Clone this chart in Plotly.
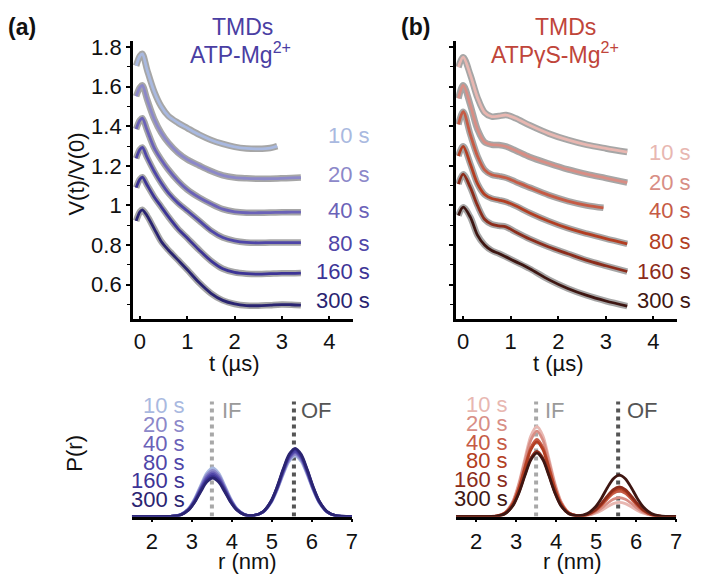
import plotly.graph_objects as go

W, H = 701, 574
FONT = "Arial, 'Liberation Sans', sans-serif"

# ---------------- series labels and colours ----------------
labels = ["10 s", "20 s", "40 s", "80 s", "160 s", "300 s"]
blue = ["#a9b9e0", "#8c88c9", "#6b62b8", "#4f46a8", "#3d3496", "#2a2471"]
red = ["#e8b7b1", "#d88e85", "#c65b45", "#b33e22", "#8c2c1b", "#3e1612"]

# ---------------- DEER traces, ATP-Mg2+ (offset stack) ----------------
t_atp = [-0.08, 0.0, 0.05, 0.15, 0.3, 0.45, 0.6, 0.8, 1.0, 1.25, 1.5, 1.75,
         2.0, 2.25, 2.5, 2.75, 3.0, 3.2, 3.4]
t_atp_10 = [-0.08, 0.0, 0.05, 0.15, 0.3, 0.45, 0.6, 0.8, 1.0, 1.25, 1.5, 1.75,
            2.0, 2.25, 2.5, 2.75, 2.9]
v_atp_10 = [1.706, 1.756, 1.766, 1.686, 1.576, 1.500, 1.452, 1.418, 1.391, 1.358,
            1.331, 1.311, 1.296, 1.288, 1.286, 1.290, 1.300]
v_atp_20 = [1.552, 1.597, 1.607, 1.537, 1.437, 1.367, 1.317, 1.267, 1.232, 1.202,
            1.174, 1.152, 1.141, 1.137, 1.135, 1.135, 1.137, 1.139, 1.141]
v_atp_40 = [1.386, 1.431, 1.441, 1.381, 1.291, 1.231, 1.181, 1.125, 1.080, 1.040,
            1.008, 0.981, 0.968, 0.963, 0.963, 0.964, 0.965, 0.966, 0.966]
v_atp_80 = [1.238, 1.283, 1.293, 1.243, 1.173, 1.113, 1.063, 1.013, 0.973, 0.923,
            0.873, 0.838, 0.821, 0.813, 0.811, 0.812, 0.812, 0.812, 0.812]
v_atp_160 = [1.090, 1.133, 1.143, 1.103, 1.043, 0.993, 0.943, 0.883, 0.835, 0.775,
             0.720, 0.680, 0.662, 0.655, 0.653, 0.655, 0.657, 0.657, 0.658]
v_atp_300 = [0.922, 0.968, 0.978, 0.948, 0.883, 0.818, 0.775, 0.725, 0.675, 0.610,
             0.556, 0.520, 0.502, 0.494, 0.493, 0.496, 0.499, 0.498, 0.496]

# ---------------- DEER traces, ATPgammaS-Mg2+ (offset stack) ----------------
t_gs = [-0.1, 0.0, 0.15, 0.3, 0.45, 0.6, 0.75, 0.9, 1.1, 1.4, 1.8, 2.2, 2.6, 3.0, 3.45]
t_gs_40 = [-0.1, 0.0, 0.15, 0.3, 0.45, 0.6, 0.75, 0.9, 1.1, 1.4, 1.8, 2.2, 2.6, 2.95]
v_gs_10 = [1.699, 1.749, 1.660, 1.545, 1.470, 1.449, 1.452, 1.457, 1.441, 1.405,
           1.363, 1.331, 1.306, 1.288, 1.270]
v_gs_20 = [1.541, 1.608, 1.508, 1.385, 1.320, 1.307, 1.305, 1.298, 1.278, 1.245,
           1.212, 1.182, 1.158, 1.138, 1.115]
v_gs_40 = [1.410, 1.474, 1.358, 1.250, 1.180, 1.155, 1.148, 1.140, 1.120, 1.090,
           1.052, 1.022, 1.000, 0.988]
v_gs_80 = [1.250, 1.299, 1.210, 1.110, 1.055, 1.035, 1.027, 1.018, 0.998, 0.962,
           0.920, 0.885, 0.857, 0.832, 0.806]
v_gs_160 = [1.108, 1.158, 1.091, 1.000, 0.930, 0.905, 0.897, 0.892, 0.866, 0.830,
            0.790, 0.756, 0.722, 0.695, 0.666]
v_gs_300 = [0.949, 0.991, 0.941, 0.850, 0.800, 0.772, 0.757, 0.740, 0.716, 0.680,
            0.625, 0.580, 0.545, 0.517, 0.491]

# ---------------- distance distributions P(r) ----------------
r_grid = [1.5, 2.0, 2.52, 2.72, 2.92, 3.07, 3.22, 3.37, 3.52, 3.67, 3.82, 3.97, 4.12,
          4.32, 4.55, 4.78, 4.98, 5.13, 5.28, 5.43, 5.58, 5.73, 5.88, 6.03, 6.18,
          6.38, 6.58, 7.0]
p_atp_10 = [0, 0, 0.003, 0.018, 0.071, 0.153, 0.264, 0.367, 0.410, 0.367, 0.264, 0.153, 0.071,
            0.018, 0.010, 0.037, 0.117, 0.223, 0.353, 0.465, 0.510, 0.465, 0.353, 0.223, 0.117,
            0.037, 0.009, 0]
p_atp_20 = [0, 0, 0.003, 0.017, 0.067, 0.145, 0.251, 0.349, 0.390, 0.349, 0.251, 0.145, 0.067,
            0.017, 0.010, 0.038, 0.121, 0.229, 0.364, 0.479, 0.525, 0.479, 0.364, 0.229, 0.121,
            0.038, 0.009, 0]
p_atp_40 = [0, 0, 0.003, 0.016, 0.064, 0.138, 0.238, 0.332, 0.370, 0.332, 0.238, 0.138, 0.064,
            0.016, 0.010, 0.039, 0.124, 0.236, 0.374, 0.492, 0.540, 0.492, 0.374, 0.236, 0.124,
            0.039, 0.009, 0]
p_atp_80 = [0, 0, 0.003, 0.016, 0.061, 0.132, 0.229, 0.318, 0.355, 0.318, 0.229, 0.132, 0.061,
            0.016, 0.010, 0.040, 0.127, 0.240, 0.381, 0.502, 0.550, 0.502, 0.381, 0.240, 0.127,
            0.040, 0.009, 0]
p_atp_160 = [0, 0, 0.003, 0.015, 0.058, 0.126, 0.219, 0.305, 0.340, 0.305, 0.219, 0.126, 0.058,
             0.015, 0.010, 0.041, 0.130, 0.247, 0.392, 0.515, 0.565, 0.515, 0.392, 0.247, 0.130,
             0.041, 0.010, 0]
p_atp_300 = [0, 0, 0.003, 0.014, 0.056, 0.121, 0.209, 0.291, 0.325, 0.291, 0.209, 0.121, 0.056,
             0.014, 0.010, 0.042, 0.132, 0.251, 0.398, 0.524, 0.575, 0.524, 0.398, 0.251, 0.132,
             0.042, 0.010, 0]
p_gs_10 = [0, 0, 0.006, 0.033, 0.131, 0.283, 0.489, 0.681, 0.760, 0.681, 0.489, 0.283, 0.131,
           0.033, 0.006, 0.009, 0.028, 0.052, 0.083, 0.109, 0.120, 0.109, 0.083, 0.052, 0.028,
           0.009, 0.002, 0]
p_gs_20 = [0, 0, 0.006, 0.032, 0.124, 0.268, 0.464, 0.645, 0.720, 0.645, 0.464, 0.268, 0.124,
           0.032, 0.007, 0.012, 0.037, 0.070, 0.111, 0.146, 0.160, 0.146, 0.111, 0.070, 0.037,
           0.012, 0.003, 0]
p_gs_40 = [0, 0, 0.005, 0.029, 0.112, 0.242, 0.419, 0.582, 0.650, 0.582, 0.419, 0.242, 0.112,
           0.029, 0.007, 0.016, 0.049, 0.094, 0.149, 0.196, 0.215, 0.196, 0.149, 0.094, 0.049,
           0.016, 0.004, 0]
p_gs_80 = [0, 0, 0.005, 0.028, 0.108, 0.234, 0.406, 0.564, 0.630, 0.564, 0.406, 0.234, 0.108,
           0.028, 0.007, 0.017, 0.054, 0.103, 0.163, 0.214, 0.235, 0.214, 0.163, 0.103, 0.054,
           0.017, 0.004, 0]
p_gs_160 = [0, 0, 0.004, 0.024, 0.095, 0.205, 0.354, 0.493, 0.550, 0.493, 0.354, 0.205, 0.095,
            0.024, 0.007, 0.018, 0.058, 0.109, 0.173, 0.228, 0.250, 0.228, 0.173, 0.109, 0.058,
            0.018, 0.004, 0]
p_gs_300 = [0, 0, 0.004, 0.024, 0.092, 0.199, 0.345, 0.479, 0.535, 0.479, 0.345, 0.199, 0.092,
            0.024, 0.008, 0.026, 0.081, 0.153, 0.243, 0.319, 0.350, 0.319, 0.243, 0.153, 0.081,
            0.026, 0.006, 0]

# reference distances of the inward- and outward-facing states
r_if, r_of = 3.5, 5.55
marker_top = 0.97

# axis ticks
t_ticks = [0, 1, 2, 3, 4]
v_ticks = [0.6, 0.8, 1.0, 1.2, 1.4, 1.6, 1.8]
v_ticktext = ["0.6", "0.8", "1", "1.2", "1.4", "1.6", "1.8"]
r_ticks = [2, 3, 4, 5, 6, 7]


def px(x):
    return x / W


def py(y):
    return 1 - y / H


fig = go.Figure()

atp_sets = [(t_atp_10, v_atp_10), (t_atp, v_atp_20), (t_atp, v_atp_40),
            (t_atp, v_atp_80), (t_atp, v_atp_160), (t_atp, v_atp_300)]
gs_sets = [(t_gs, v_gs_10), (t_gs, v_gs_20), (t_gs_40, v_gs_40),
           (t_gs, v_gs_80), (t_gs, v_gs_160), (t_gs, v_gs_300)]

# measured data (grey band) under each fitted trace
for sets, colors, xa, ya in [(atp_sets, blue, "x", "y"), (gs_sets, red, "x2", "y2")]:
    for (tt, vv), c in zip(sets, colors):
        fig.add_trace(go.Scatter(x=tt, y=vv, mode="lines", xaxis=xa, yaxis=ya,
                                 line=dict(color="rgba(150,150,150,0.85)", width=6.5,
                                           shape="spline", smoothing=0.9),
                                 hoverinfo="skip", showlegend=False))
        fig.add_trace(go.Scatter(x=tt, y=vv, mode="lines", xaxis=xa, yaxis=ya,
                                 line=dict(color=c, width=2.8, shape="spline", smoothing=0.9),
                                 showlegend=False))

# IF / OF reference lines in the distance panels
for xa, ya in [("x3", "y3"), ("x4", "y4")]:
    fig.add_trace(go.Scatter(x=[r_if, r_if], y=[0, marker_top], mode="lines", xaxis=xa, yaxis=ya,
                             line=dict(color="#a8a8a8", width=4, dash="dot"), showlegend=False))
    fig.add_trace(go.Scatter(x=[r_of, r_of], y=[0, marker_top], mode="lines", xaxis=xa, yaxis=ya,
                             line=dict(color="#555555", width=4, dash="dot"), showlegend=False))

p_atp = [p_atp_10, p_atp_20, p_atp_40, p_atp_80, p_atp_160, p_atp_300]
p_gs = [p_gs_10, p_gs_20, p_gs_40, p_gs_80, p_gs_160, p_gs_300]
for series, colors, xa, ya in [(p_atp, blue, "x3", "y3"), (p_gs, red, "x4", "y4")]:
    for pp, c in zip(series, colors):
        fig.add_trace(go.Scatter(x=r_grid, y=pp, mode="lines", xaxis=xa, yaxis=ya,
                                 line=dict(color=c, width=2.8, shape="spline", smoothing=0.8),
                                 showlegend=False))

tick_font = dict(family=FONT, size=22, color="#111111")

top_x = dict(range=[-0.15, 4.5], showline=True, linecolor="black", linewidth=2.5,
             tickmode="array", tickvals=t_ticks, ticks="inside", ticklen=4, tickwidth=1.5,
             tickcolor="black", tickfont=tick_font, showgrid=False, zeroline=False)
top_y = dict(range=[0.424, 1.833], showline=True, linecolor="black", linewidth=2.5,
             tickmode="array", tickvals=v_ticks, ticktext=v_ticktext, ticks="outside",
             ticklen=4, tickwidth=1.5, tickcolor="black", tickfont=tick_font,
             minor=dict(tickmode="linear", tick0=0, dtick=0.1, ticks="outside", ticklen=3,
                        tickwidth=1.2, tickcolor="black"),
             showgrid=False, zeroline=False)
bot_x = dict(range=[1.5, 7], showline=True, linecolor="black", linewidth=2.5,
             tickmode="array", tickvals=r_ticks, ticks="outside", ticklen=3, tickwidth=1.5,
             tickcolor="black", tickfont=tick_font, showgrid=False, zeroline=False)
bot_y = dict(range=[0, 1], visible=False, showgrid=False, zeroline=False)

ya_dom = [py(316.7), py(35)]
yb_dom = [py(516), py(396)]

fig.update_layout(
    width=W, height=H, margin=dict(l=0, r=0, t=0, b=0),
    paper_bgcolor="white", plot_bgcolor="white",
    font=dict(family=FONT, size=22, color="#111111"),
    xaxis=dict(domain=[px(134), px(356)], anchor="y", **top_x),
    yaxis=dict(domain=ya_dom, anchor="x", **top_y),
    xaxis2=dict(domain=[px(460), px(683)], anchor="y2", **top_x),
    yaxis2=dict(domain=ya_dom, anchor="x2", showticklabels=False, **top_y),
    xaxis3=dict(domain=[px(133), px(355)], anchor="y3", **bot_x),
    yaxis3=dict(domain=yb_dom, anchor="x3", **bot_y),
    xaxis4=dict(domain=[px(460), px(682)], anchor="y4", **bot_x),
    yaxis4=dict(domain=yb_dom, anchor="x4", **bot_y),
)

ann = []


def text(x, y, s, size=22, color="#111111", anchor="center", bold=False, angle=0):
    if bold:
        s = "<b>" + s + "</b>"
    ann.append(dict(x=px(x), y=py(y), xref="paper", yref="paper", text=s, showarrow=False,
                    xanchor=anchor, yanchor="middle", textangle=angle,
                    font=dict(family=FONT, size=size, color=color)))


# panel letters and titles
text(22, 21, "(a)", size=23, bold=True)
text(419, 21, "(b)", size=23, bold=True)
text(245, 21, "TMDs", size=23, color="#4a3ea3")
text(243, 48, "ATP-Mg<sup>2+</sup>", size=23, color="#4a3ea3")
text(570, 21, "TMDs", size=23, color="#c0453a")
text(560, 48, "ATPγS-Mg<sup>2+</sup>", size=23, color="#c0453a")

# axis titles
text(77, 170, "V(t)/V(0)", angle=-90)
text(237, 361, "t (µs)")
text(563, 361, "t (µs)")
text(75, 452, "P(r)", angle=-90)
text(250, 561, "r (nm)")
text(577, 561, "r (nm)")

# time labels next to the traces
top_a_y = [131, 170, 207, 240, 268, 298]
top_b_y = [148, 178, 207, 238, 268, 298]
bot_a_y = [404, 423, 442, 461, 480, 499]
bot_b_y = [403, 422, 441, 459, 479, 498]
for i, lab in enumerate(labels):
    text(375, top_a_y[i], lab, color=blue[i], anchor="right")
    text(699, top_b_y[i], lab, color=red[i], anchor="right")
    text(189, bot_a_y[i], lab, size=22, color=blue[i], anchor="right")
    text(514, bot_b_y[i], lab, size=22, color=red[i], anchor="right")

# state labels
text(222, 409, "IF", color="#9a9a9a", anchor="left")
text(302, 409, "OF", color="#555555", anchor="left")
text(548, 409, "IF", color="#9a9a9a", anchor="left")
text(630, 409, "OF", color="#555555", anchor="left")

fig.update_layout(annotations=ann)
fig.write_html("out.html")
